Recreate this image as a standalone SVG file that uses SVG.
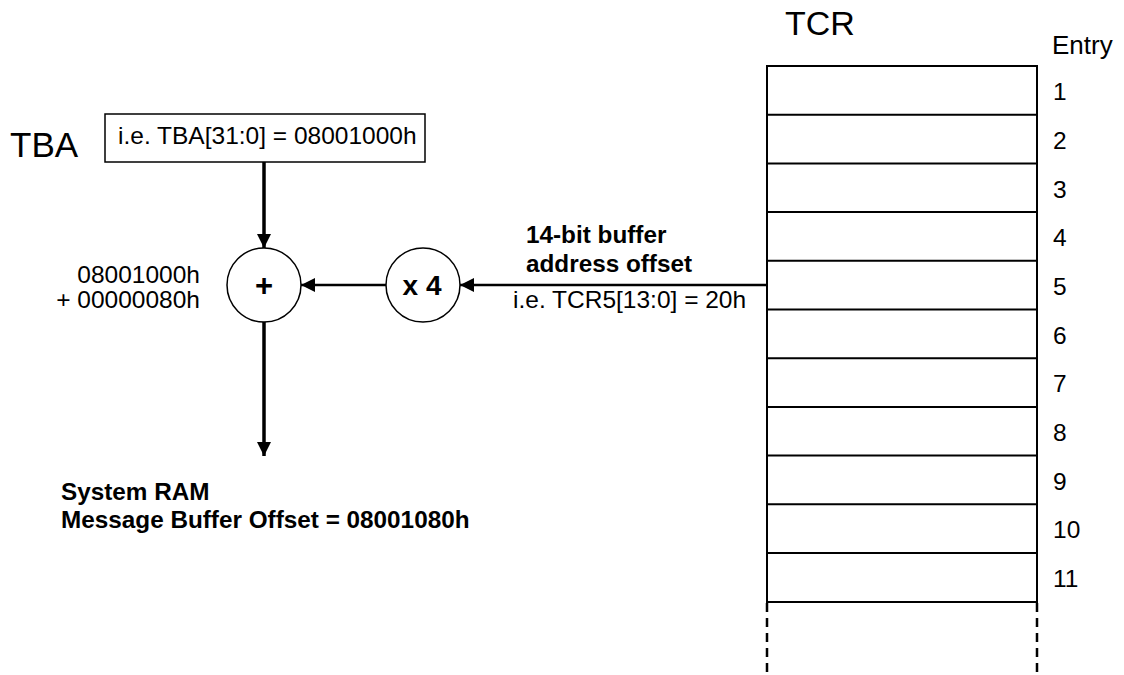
<svg xmlns="http://www.w3.org/2000/svg" width="1124" height="675" viewBox="0 0 1124 675">
<defs>
<style>
text{font-family:"Liberation Sans",Arial,sans-serif;fill:#000}
.r{font-size:24.5px}
.b{font-size:24.3px;font-weight:bold}
.big{font-size:34px}
.box{fill:#fff;stroke:#000;stroke-width:1.5}
.row{fill:none;stroke:#000;stroke-width:2}
.circ{fill:#fff;stroke:#000;stroke-width:1.5}
.thick{stroke:#000;stroke-width:3.5;fill:none}
.thin{stroke:#000;stroke-width:2.5;fill:none}
.dash{stroke:#000;stroke-width:2.5;stroke-dasharray:9,6;fill:none}
</style>
<marker id="ah" viewBox="0 0 10 10" refX="10" refY="5" markerWidth="14" markerHeight="14" markerUnits="userSpaceOnUse" orient="auto">
<path d="M0,0 L10,5 L0,10 z" fill="#000"/>
</marker>
</defs>
<rect width="1124" height="675" fill="#fff"/>

<g id="tba">
<text class="big" x="10" y="157" style="font-size:35px">TBA</text>
<rect class="box" x="105" y="114" width="320" height="48"/>
<text class="r" x="118" y="144">i.e. TBA[31:0] = 08001000h</text>
</g>

<g id="adder">
<circle class="circ" cx="264" cy="285" r="37"/>
<text x="264" y="296" text-anchor="middle" style="font-size:31px;font-weight:bold">+</text>
<text class="r" x="200" y="283" text-anchor="end">08001000h</text>
<text class="r" x="200" y="308" text-anchor="end">+ 00000080h</text>
</g>

<g id="mult">
<circle class="circ" cx="423" cy="285" r="37"/>
<text x="422" y="295" text-anchor="middle" style="font-size:28px;font-weight:bold">x 4</text>
</g>

<g id="offset-label">
<text class="b" x="526" y="243">14-bit buffer</text>
<text class="b" x="526" y="272">address offset</text>
<text class="r" x="513" y="308">i.e. TCR5[13:0] = 20h</text>
</g>

<g id="result">
<text class="b" x="61" y="500">System RAM</text>
<text class="b" x="61" y="528">Message Buffer Offset = 08001080h</text>
</g>

<g id="tcr">
<text class="big" x="785" y="35">TCR</text>
<text x="1052" y="54" style="font-size:26px">Entry</text>
<rect class="row" x="767" y="66" width="270" height="536"/>
<path class="row" d="M767,114.7H1037M767,163.4H1037M767,212.1H1037M767,260.8H1037M767,309.5H1037M767,358.2H1037M767,406.9H1037M767,455.6H1037M767,504.3H1037M767,553H1037"/>
<path class="dash" d="M767,603V675M1037,603V675"/>
<text class="r" x="1053" y="100">1</text>
<text class="r" x="1053" y="149">2</text>
<text class="r" x="1053" y="198">3</text>
<text class="r" x="1053" y="246">4</text>
<text class="r" x="1053" y="295">5</text>
<text class="r" x="1053" y="344">6</text>
<text class="r" x="1053" y="392">7</text>
<text class="r" x="1053" y="441">8</text>
<text class="r" x="1053" y="490">9</text>
<text class="r" x="1053" y="538">10</text>
<text class="r" x="1053" y="587">11</text>
</g>

<g id="connectors">
<line class="thick" x1="264" y1="162" x2="264" y2="248" marker-end="url(#ah)"/>
<line class="thin" x1="386" y1="285" x2="301" y2="285" marker-end="url(#ah)"/>
<line class="thin" x1="767" y1="285" x2="460" y2="285" marker-end="url(#ah)"/>
<line class="thick" x1="264" y1="322" x2="264" y2="456" marker-end="url(#ah)"/>
</g>
</svg>
